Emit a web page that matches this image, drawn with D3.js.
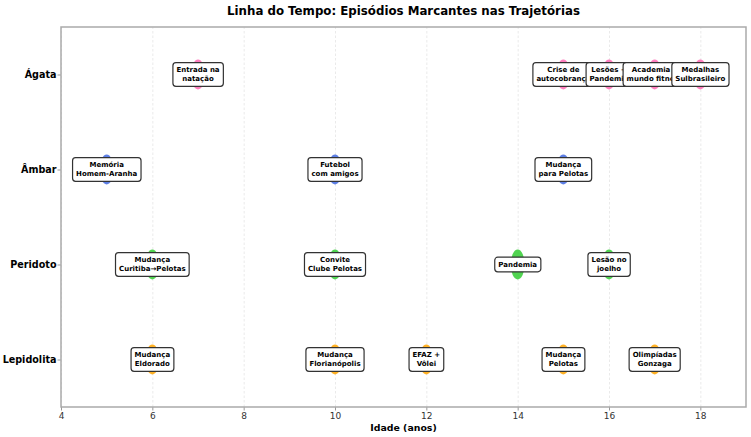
<!DOCTYPE html>
<html>
  <head>
    <meta charset="utf-8">
    <title></title>
  </head>
  <style>
    body{
      margin: 0;
      background-color: #fff;
      font-family: "DejaVu Sans";
    }
    .grid .tick line{
      stroke: #e4e4e4;
      stroke-width: 0.8;
      stroke-dasharray: 2.5,2
    }
    .grid .domain{ display: none }
    .axis .domain{ display: none }
    .axis .tick line{ stroke: #999 }
  </style>
  <script src="https://d3js.org/d3.v7.min.js"></script>
  <body>
    <script>
    // pessoas, de cima para baixo
    const people = ["Ágata", "Âmbar", "Peridoto", "Lepidolita"]
    const colors = ["#ff69b4", "#4169e1", "#32cd32", "#ffa500"]

    // idades dos episódios
    const agataAges = [7, 15, 16, 17, 18]
    const agataEvents = ["Entrada na\nnatação", "Crise de\nautocobrança", "Lesões +\nPandemia", "Academia e\nmundo fitness", "Medalhas\nSulbrasileiro"]

    const ambarAges = [5, 10, 15]
    const ambarEvents = ["Memória\nHomem-Aranha", "Futebol\ncom amigos", "Mudança\npara Pelotas"]

    const peridotoAges = [6, 10, 14, 16]
    const peridotoEvents = ["Mudança\nCuritiba→Pelotas", "Convite\nClube Pelotas", "Pandemia", "Lesão no\njoelho"]

    const lepidolitaAges = [6, 10, 12, 15, 17]
    const lepidolitaEvents = ["Mudança\nEldorado", "Mudança\nFlorianópolis", "EFAZ +\nVôlei", "Mudança\nPelotas", "Olimpíadas\nGonzaga"]

    const xTicks = [4, 6, 8, 10, 12, 14, 16, 18]

    const ages = [agataAges, ambarAges, peridotoAges, lepidolitaAges]
    const events = [agataEvents, ambarEvents, peridotoEvents, lepidolitaEvents]

    var W = 751, H = 437
    var margin = {left: 61, top: 27, right: 5, bottom: 30}
    var width = W - margin.left - margin.right
    var height = H - margin.top - margin.bottom

    var svg = d3.select("body").append("svg")
                .attr("width", W)
                .attr("height", H)

    var g = svg.append("g")
               .attr("transform", `translate(${margin.left},${margin.top})`)

    // escalas
    let xScale = d3.scaleLinear().domain([4, 19]).range([0, width])
    let yScale = d3.scaleLinear().domain([-0.5, 3.5]).range([height, 0])
    let yPos = function(i){ return yScale(people.length - 1 - i) }

    // grade vertical
    g.append("g")
      .attr("class", "grid")
      .attr("transform", `translate(0,${height})`)
      .call(d3.axisBottom(xScale).tickValues(xTicks).tickSize(-height).tickFormat(""))

    // eixo x
    let xAxis = g.append("g")
      .attr("class", "axis")
      .attr("transform", `translate(0,${height})`)
      .call(d3.axisBottom(xScale).tickValues(xTicks).tickSize(3.5).tickPadding(2))
    xAxis.selectAll("text")
      .attr("font-size", "9px")
      .attr("fill", "#333")
      .attr("font-family", "DejaVu Sans")

    // eixo y
    let yAxis = g.append("g")
      .attr("class", "axis")
      .call(d3.axisLeft(yScale).tickValues([0, 1, 2, 3])
              .tickFormat(function(d){ return people[people.length - 1 - d] })
              .tickSize(3.5).tickPadding(1))
    yAxis.selectAll("text")
      .attr("font-size", "9.6px")
      .attr("font-weight", "bold")
      .attr("fill", "#000")
      .attr("font-family", "DejaVu Sans")

    // bordas
    g.append("rect")
      .attr("width", width)
      .attr("height", height)
      .attr("fill", "none")
      .attr("stroke", "#aaa")
      .attr("stroke-width", 1.5)

    // marcadores
    people.forEach(function(p, i){
      g.append("g").selectAll("ellipse")
        .data(ages[i])
        .enter()
        .append("ellipse")
        .attr("cx", function(d){ return xScale(d) })
        .attr("cy", yPos(i))
        .attr("rx", 7)
        .attr("ry", 15)
        .attr("fill", colors[i])
        .attr("fill-opacity", 0.85)
    })

    // caixas de texto
    people.forEach(function(p, i){
      ages[i].forEach(function(a, j){
        let lines = events[i][j].split("\n")
        let lab = g.append("g")
                   .attr("transform", `translate(${xScale(a)},${yPos(i)})`)
        let box = lab.append("rect")
        let txt = lab.append("text")
                     .attr("text-anchor", "middle")
                     .attr("font-size", "7px")
                     .attr("font-weight", "bold")
                     .attr("font-family", "DejaVu Sans")
                     .attr("fill", "#000")
        let lh = 9
        lines.forEach(function(l, k){
          txt.append("tspan")
             .attr("x", 0)
             .attr("y", (k - (lines.length - 1) / 2) * lh)
             .attr("dy", "0.35em")
             .text(l)
        })
        let bb = txt.node().getBBox()
        let pad = 3.5
        box.attr("x", bb.x - pad)
           .attr("y", -(lines.length * lh) / 2 - 2.8)
           .attr("width", bb.width + 2 * pad)
           .attr("height", lines.length * lh + 5.6)
           .attr("rx", 3)
           .attr("fill", "#fff")
           .attr("stroke", "#333")
           .attr("stroke-width", 1.2)
      })
    })

    // título
    svg.append("text")
      .attr("x", margin.left + width / 2)
      .attr("y", 15)
      .attr("text-anchor", "middle")
      .attr("font-size", "11.8px")
      .attr("font-weight", "bold")
      .text("Linha do Tempo: Episódios Marcantes nas Trajetórias")

    svg.append("text")
      .attr("x", margin.left + width / 2)
      .attr("y", 431)
      .attr("text-anchor", "middle")
      .attr("font-size", "9.4px")
      .attr("font-weight", "bold")
      .text("Idade (anos)")
    </script>
  </body>
</html>
